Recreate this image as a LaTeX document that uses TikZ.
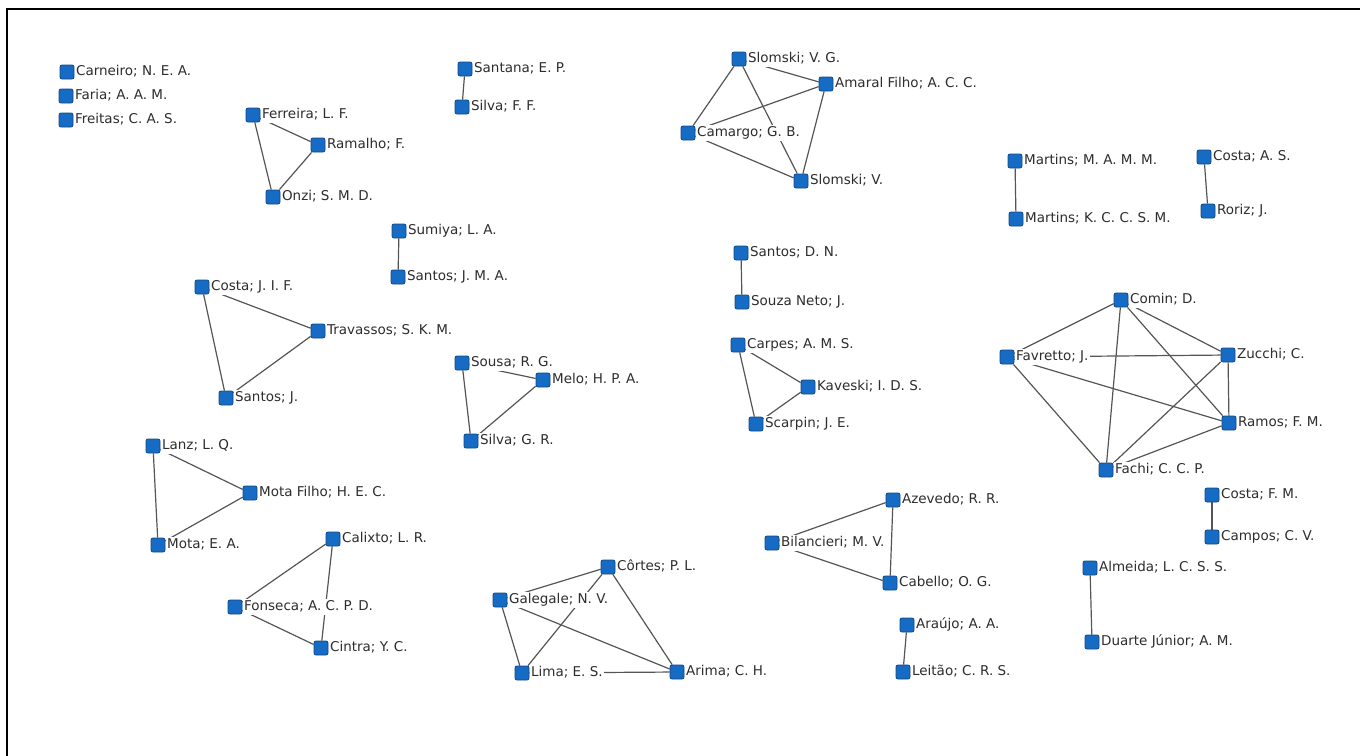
\documentclass[tikz,border=0pt]{standalone}
\usepackage{fontspec}
\setmainfont{DejaVu Sans}
\usetikzlibrary{backgrounds}
\definecolor{nodefill}{RGB}{22,108,196}
\definecolor{nodeline}{RGB}{20,70,130}
\definecolor{edgegray}{RGB}{85,85,85}
\definecolor{labeltext}{RGB}{45,45,45}
\tikzset{
  autor/.style={draw=nodeline, fill=nodefill, line width=0.8pt, rounded corners=2pt,
    minimum size=14pt, inner sep=0pt, label distance=2pt},
  rotulo/.style={fill=white, inner sep=1.5pt, text=labeltext,
    font=\fontsize{13.5}{15}\selectfont, text height=10pt, text depth=2.5pt},
  coaut/.style={draw=edgegray, line width=1.2pt}
}
\begin{document}
\begin{tikzpicture}[x=1pt, y=-1pt]
  \useasboundingbox (0,0) rectangle (1360,755);
  % Moldura
  \draw[line width=2pt] (7,760) -- (7,9) -- (1365,9);
  % Autores isolados
  \node[autor, label={[rotulo]right:Carneiro; N. E. A.}] (carneiro) at (67,72) {};
  \node[autor, label={[rotulo]right:Faria; A. A. M.}] (faria) at (66,96) {};
  \node[autor, label={[rotulo]right:Freitas; C. A. S.}] (freitas) at (66,120) {};
  % Ferreira, Ramalho, Onzi
  \node[autor, label={[rotulo]right:Ferreira; L. F.}] (ferreira) at (253,115) {};
  \node[autor, label={[rotulo]right:Ramalho; F.}] (ramalho) at (318,145) {};
  \node[autor, label={[rotulo]right:Onzi; S. M. D.}] (onzi) at (273,197) {};
  % Santana, Silva
  \node[autor, label={[rotulo]right:Santana; E. P.}] (santana) at (465,69) {};
  \node[autor, label={[rotulo]right:Silva; F. F.}] (silvaff) at (462,107) {};
  % Slomski, Amaral Filho, Camargo
  \node[autor, label={[rotulo]right:Slomski; V. G.}] (slomskivg) at (739,59) {};
  \node[autor, label={[rotulo]right:Amaral Filho; A. C. C.}] (amaral) at (826,84) {};
  \node[autor, label={[rotulo]right:Camargo; G. B.}] (camargo) at (688,133) {};
  \node[autor, label={[rotulo]right:Slomski; V.}] (slomskiv) at (801,181) {};
  % Martins
  \node[autor, label={[rotulo]right:Martins; M. A. M. M.}] (martinsm) at (1015,161) {};
  \node[autor, label={[rotulo]right:Martins; K. C. C. S. M.}] (martinsk) at (1016,219) {};
  % Costa, Roriz
  \node[autor, label={[rotulo]right:Costa; A. S.}] (costaas) at (1204,157) {};
  \node[autor, label={[rotulo]right:Roriz; J.}] (roriz) at (1208,211) {};
  % Sumiya, Santos
  \node[autor, label={[rotulo]right:Sumiya; L. A.}] (sumiya) at (399,231) {};
  \node[autor, label={[rotulo]right:Santos; J. M. A.}] (santosjma) at (398,277) {};
  % Costa, Travassos, Santos
  \node[autor, label={[rotulo]right:Costa; J. I. F.}] (costajif) at (202,287) {};
  \node[autor, label={[rotulo]right:Travassos; S. K. M.}] (travassos) at (318,331) {};
  \node[autor, label={[rotulo]right:Santos; J.}] (santosj) at (226,398) {};
  % Santos, Souza Neto
  \node[autor, label={[rotulo]right:Santos; D. N.}] (santosdn) at (741,253) {};
  \node[autor, label={[rotulo]right:Souza Neto; J.}] (souza) at (742,302) {};
  % Carpes, Kaveski, Scarpin
  \node[autor, label={[rotulo]right:Carpes; A. M. S.}] (carpes) at (738,345) {};
  \node[autor, label={[rotulo]right:Kaveski; I. D. S.}] (kaveski) at (808,387) {};
  \node[autor, label={[rotulo]right:Scarpin; J. E.}] (scarpin) at (756,424) {};
  % Sousa, Melo, Silva
  \node[autor, label={[rotulo]right:Sousa; R. G.}] (sousa) at (462,363) {};
  \node[autor, label={[rotulo]right:Melo; H. P. A.}] (melo) at (543,380) {};
  \node[autor, label={[rotulo]right:Silva; G. R.}] (silvagr) at (471,441) {};
  % Comin, Favretto, Zucchi, Ramos, Fachi
  \node[autor, label={[rotulo]right:Comin; D.}] (comin) at (1121,300) {};
  \node[autor, label={[rotulo]right:Favretto; J.}] (favretto) at (1007,357) {};
  \node[autor, label={[rotulo]right:Zucchi; C.}] (zucchi) at (1228,355) {};
  \node[autor, label={[rotulo]right:Ramos; F. M.}] (ramos) at (1229,423) {};
  \node[autor, label={[rotulo]right:Fachi; C. C. P.}] (fachi) at (1106,470) {};
  % Lanz, Mota Filho, Mota
  \node[autor, label={[rotulo]right:Lanz; L. Q.}] (lanz) at (153,446) {};
  \node[autor, label={[rotulo]right:Mota Filho; H. E. C.}] (motafilho) at (250,493) {};
  \node[autor, label={[rotulo]right:Mota; E. A.}] (mota) at (158,545) {};
  % Calixto, Fonseca, Cintra
  \node[autor, label={[rotulo]right:Calixto; L. R.}] (calixto) at (333,539) {};
  \node[autor, label={[rotulo]right:Fonseca; A. C. P. D.}] (fonseca) at (235,607) {};
  \node[autor, label={[rotulo]right:Cintra; Y. C.}] (cintra) at (321,648) {};
  % Côrtes, Galegale, Lima, Arima
  \node[autor, label={[rotulo]right:Côrtes; P. L.}] (cortes) at (608,567) {};
  \node[autor, label={[rotulo]right:Galegale; N. V.}] (galegale) at (500,600) {};
  \node[autor, label={[rotulo]right:Lima; E. S.}] (lima) at (522,673) {};
  \node[autor, label={[rotulo]right:Arima; C. H.}] (arima) at (677,672) {};
  % Azevedo, Bilancieri, Cabello
  \node[autor, label={[rotulo]right:Azevedo; R. R.}] (azevedo) at (893,500) {};
  \node[autor, label={[rotulo]right:Bilancieri; M. V.}] (bilancieri) at (772,543) {};
  \node[autor, label={[rotulo]right:Cabello; O. G.}] (cabello) at (890,583) {};
  % Araújo, Leitão
  \node[autor, label={[rotulo]right:Araújo; A. A.}] (araujo) at (907,625) {};
  \node[autor, label={[rotulo]right:Leitão; C. R. S.}] (leitao) at (903,672) {};
  % Costa, Campos
  \node[autor, label={[rotulo]right:Costa; F. M.}] (costafm) at (1212,495) {};
  \node[autor, label={[rotulo]right:Campos; C. V.}] (campos) at (1212,537) {};
  % Almeida, Duarte Júnior
  \node[autor, label={[rotulo]right:Almeida; L. C. S. S.}] (almeida) at (1090,568) {};
  \node[autor, label={[rotulo]right:Duarte Júnior; A. M.}] (duarte) at (1092,642) {};
  % Coautorias
  \begin{scope}[on background layer]
    \draw[coaut] (ferreira) -- (ramalho) -- (onzi) -- (ferreira);
    \draw[coaut] (santana) -- (silvaff);
    \draw[coaut] (slomskivg) -- (amaral) -- (slomskiv) -- (camargo) -- (slomskivg) -- (slomskiv);
    \draw[coaut] (camargo) -- (amaral);
    \draw[coaut] (martinsm) -- (martinsk);
    \draw[coaut] (costaas) -- (roriz);
    \draw[coaut] (sumiya) -- (santosjma);
    \draw[coaut] (costajif) -- (travassos) -- (santosj) -- (costajif);
    \draw[coaut] (santosdn) -- (souza);
    \draw[coaut] (carpes) -- (kaveski) -- (scarpin) -- (carpes);
    \draw[coaut] (sousa) -- (melo) -- (silvagr) -- (sousa);
    \foreach \a/\b in {comin/favretto, comin/zucchi, comin/ramos, comin/fachi,
        favretto/zucchi, favretto/ramos, favretto/fachi,
        zucchi/ramos, zucchi/fachi, ramos/fachi}
      \draw[coaut] (\a) -- (\b);
    \draw[coaut] (lanz) -- (motafilho) -- (mota) -- (lanz);
    \draw[coaut] (calixto) -- (fonseca) -- (cintra) -- (calixto);
    \foreach \a/\b in {cortes/galegale, cortes/lima, cortes/arima,
        galegale/lima, galegale/arima, lima/arima}
      \draw[coaut] (\a) -- (\b);
    \draw[coaut] (azevedo) -- (bilancieri) -- (cabello) -- (azevedo);
    \draw[coaut] (araujo) -- (leitao);
    \draw[coaut] (costafm) -- (campos);
    \draw[coaut] (almeida) -- (duarte);
  \end{scope}
\end{tikzpicture}
\end{document}
